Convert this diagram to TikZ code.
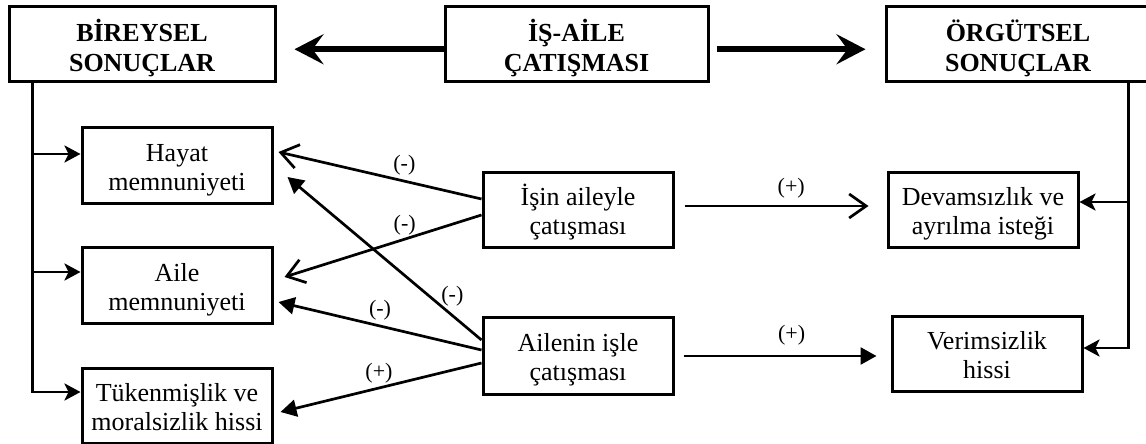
\documentclass[tikz,border=0pt]{standalone}
\usepackage{fontspec}
\setmainfont{Liberation Serif}
\usetikzlibrary{arrows.meta}
\newcommand{\nTop}{\rule{0pt}{28pt}}
\newcommand{\nBot}{\rule[-6.5pt]{0pt}{0pt}}
\newcommand{\tTop}{\rule{0pt}{32pt}}
\newcommand{\tBot}{\rule[-6.7pt]{0pt}{0pt}}
\begin{document}
\begin{tikzpicture}[x=1pt,y=-1pt,
 box/.style={draw,line width=3pt,inner sep=0pt,minimum width=190pt,minimum height=76pt,align=center,font=\fontsize{26}{29}\selectfont},
 titlebox/.style={box,minimum width=266pt,minimum height=74.5pt,font=\bfseries\fontsize{26}{30}\selectfont},
 conn/.style={line width=2.7pt},
 bigarr/.style={line width=6.5pt,-{Stealth[length=29pt,width=30pt,inset=11pt]}},
 openarr/.style={conn,-{Straight Barb[length=17pt,width=24pt]}},
 fillarr/.style={conn,-{Triangle[length=16pt,width=17pt]}},
 brarr/.style={conn,-{Stealth[length=16pt,width=17pt,inset=4pt]}},
 lbl/.style={font=\fontsize{22}{26}\selectfont,inner sep=0pt}
]
\useasboundingbox (0,0) rectangle (1146,444);
% title boxes
\node[titlebox] (bir) at (142,44.25) {\tTop BİREYSEL\\SONUÇLAR\tBot};
\node[titlebox,minimum width=263pt] (isa) at (576.5,44.25) {\tTop İŞ-AİLE\\ÇATIŞMASI\tBot};
\node[titlebox,minimum width=264pt] (org) at (1018,44.25) {\tTop ÖRGÜTSEL\\SONUÇLAR\tBot};
% outcome boxes
\node[box] (hay) at (177,165) {\nTop Hayat\\memnuniyeti\nBot};
\node[box] (ail) at (177,285) {\nTop Aile\\memnuniyeti\nBot};
\node[box,minimum height=75pt] (tuk) at (177,405.5) {\nTop Tükenmişlik ve\\moralsizlik hissi\nBot};
\node[box,minimum height=75pt] (isin) at (578,209.5) {\nTop İşin aileyle\\çatışması\nBot};
\node[box,minimum height=77pt] (ailn) at (578,355.5) {\nTop Ailenin işle\\çatışması\nBot};
\node[box,minimum height=75pt] (dev) at (983,209.5) {\nTop Devamsızlık ve\\ayrılma isteği\nBot};
\node[box,minimum height=75pt] (ver) at (987,353.5) {\nTop Verimsizlik\\hissi\nBot};
% big arrows
\draw[bigarr] ([yshift=-5pt]isa.west) -- ([xshift=18pt,yshift=-5pt]bir.east);
\draw[bigarr] ([xshift=7pt,yshift=-5pt]isa.east) -- ([xshift=-19pt,yshift=-5pt]org.west);
% left tree
\draw[brarr] ([xshift=25pt]bir.south west) |- ([yshift=11pt]hay.west);
\draw[brarr] ([xshift=25pt]bir.south west) |- ([yshift=13pt]ail.west);
\draw[brarr] ([xshift=25pt]bir.south west) |- ([yshift=13.5pt]tuk.west);
% right tree
\draw[brarr] ([xshift=-23pt]org.south east) |- ([yshift=7.5pt]dev.east);
\draw[brarr] ([xshift=-23pt]org.south east) |- ([yshift=5.5pt]ver.east);
% relations
\draw[openarr] ([yshift=10.5pt]isin.west) -- node[lbl,pos=0.38,yshift=16pt]{(-)} ([xshift=5pt,yshift=13pt]hay.east);
\draw[openarr] ([yshift=-5.5pt]isin.west) -- node[lbl,pos=0.39,yshift=14pt]{(-)} ([xshift=11pt,yshift=8pt]ail.east);
\draw[fillarr] ([yshift=15.5pt]ailn.west) -- node[lbl,pos=0.15,yshift=19pt]{(-)} ([xshift=14pt,yshift=-12pt]hay.east);
\draw[fillarr] ([yshift=5.5pt]ailn.west) -- node[lbl,pos=0.5,yshift=16pt]{(-)} ([xshift=5pt,yshift=-17pt]ail.east);
\draw[fillarr] ([yshift=-7.5pt]ailn.west) -- node[lbl,pos=0.51,yshift=15pt]{(+)} ([xshift=7pt,yshift=-6.5pt]tuk.east);
\draw[openarr] ([xshift=10pt,yshift=3.5pt]isin.east) -- node[lbl,pos=0.58,yshift=18pt]{(+)} ([xshift=-18pt,yshift=3.5pt]dev.west);
\draw[fillarr] ([xshift=9pt,yshift=-0.5pt]ailn.east) -- node[lbl,pos=0.56,yshift=21pt]{(+)} ([xshift=-14pt,yshift=-2.5pt]ver.west);
\end{tikzpicture}
\end{document}
